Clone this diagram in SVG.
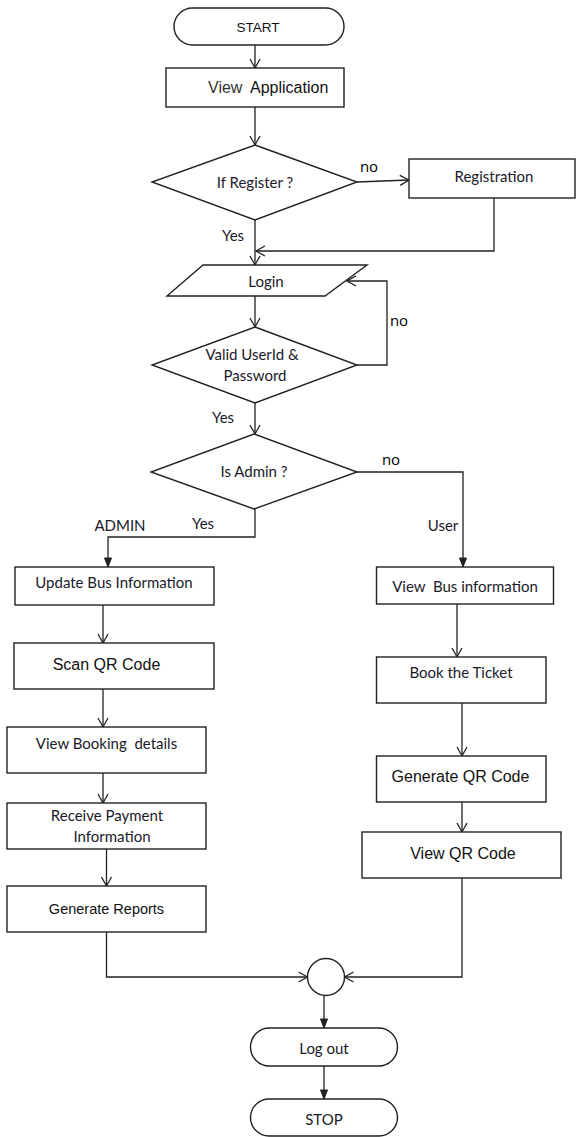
<svg xmlns="http://www.w3.org/2000/svg" width="576" height="1137" viewBox="0 0 576 1137">
<defs>
<style>
.shape{fill:#fff;stroke:#222;stroke-width:1.4}
.conn{fill:none;stroke:#222;stroke-width:1.3}
.c{font-family:Lato,"Open Sans","Liberation Sans",sans-serif;font-size:15px;fill:#1a1a2a;text-anchor:middle}
.a{font-family:"Liberation Sans",Arial,sans-serif;font-size:16px;fill:#111;text-anchor:middle}
.lbl{font-family:Lato,"Open Sans","Liberation Sans",sans-serif;font-size:15px;fill:#1a1a2a;text-anchor:middle}
.no{font-family:"Open Sans","Liberation Sans",sans-serif;font-size:15px;fill:#000;text-anchor:middle}
</style>
<marker id="open" markerUnits="userSpaceOnUse" markerWidth="12" markerHeight="12" refX="10" refY="6" orient="auto">
<path d="M1,1 L10,6 L1,11" fill="none" stroke="#222" stroke-width="1.3"/>
</marker>
<marker id="fill" markerUnits="userSpaceOnUse" markerWidth="12" markerHeight="12" refX="10" refY="6" orient="auto">
<path d="M1,2.5 L10,6 L1,9.5 Z" fill="#222" stroke="#222" stroke-width="1"/>
</marker>
</defs>
<rect width="576" height="1137" fill="#fff"/>

<g id="connectors">
<line class="conn" x1="255" y1="45" x2="255" y2="68" marker-end="url(#open)"/>
<line class="conn" x1="255" y1="107" x2="255" y2="145" marker-end="url(#open)"/>
<line class="conn" x1="357" y1="182" x2="409" y2="180" marker-end="url(#open)"/>
<polyline class="conn" points="494,198 494,251 256,251" marker-end="url(#open)"/>
<line class="conn" x1="255" y1="220" x2="255" y2="265" marker-end="url(#open)"/>
<line class="conn" x1="255" y1="296" x2="255" y2="327" marker-end="url(#open)"/>
<polyline class="conn" points="357,365 387,365 387,281 347,281" marker-end="url(#open)"/>
<line class="conn" x1="255" y1="403" x2="255" y2="434" marker-end="url(#open)"/>
<polyline class="conn" points="255,509 255,537 108,537 108,567" marker-end="url(#fill)"/>
<polyline class="conn" points="357,472 463,472 463,567" marker-end="url(#fill)"/>
<line class="conn" x1="103" y1="605" x2="103" y2="643" marker-end="url(#open)"/>
<line class="conn" x1="103" y1="689" x2="103" y2="727" marker-end="url(#open)"/>
<line class="conn" x1="103" y1="773" x2="103" y2="803" marker-end="url(#open)"/>
<line class="conn" x1="106.5" y1="849" x2="106.5" y2="886" marker-end="url(#open)"/>
<line class="conn" x1="457" y1="604" x2="457" y2="657" marker-end="url(#open)"/>
<line class="conn" x1="462" y1="703" x2="462" y2="756" marker-end="url(#open)"/>
<line class="conn" x1="462" y1="802" x2="462" y2="832" marker-end="url(#open)"/>
<polyline class="conn" points="106.5,932 106.5,977 307.5,977" marker-end="url(#open)"/>
<polyline class="conn" points="462,878 462,977 344.5,977" marker-end="url(#open)"/>
<line class="conn" x1="324" y1="996" x2="324" y2="1028" marker-end="url(#fill)"/>
<line class="conn" x1="324" y1="1066" x2="324" y2="1099" marker-end="url(#fill)"/>
</g>

<g id="labels">
<text class="no" x="369" y="172">no</text>
<text class="lbl" x="233" y="241">Yes</text>
<text class="no" x="399" y="326">no</text>
<text class="lbl" x="223" y="423">Yes</text>
<text class="no" x="391" y="465">no</text>
<text class="lbl" x="120" y="531">ADMIN</text>
<text class="lbl" x="203" y="529">Yes</text>
<text class="lbl" x="443" y="531">User</text>
</g>

<g id="start">
<rect class="shape" x="174" y="8" width="170" height="37" rx="18.5"/>
<text class="a" x="258" y="32" style="font-size:13.5px">START</text>
</g>
<g id="view-application">
<rect class="shape" x="166" y="68" width="178" height="39"/>
<text class="a" x="208" y="93" style="text-anchor:start"><tspan fill="#333">View</tspan><tspan x="250">Application</tspan></text>
</g>
<g id="if-register">
<polygon class="shape" points="255,145 357,182 255,220 152,182"/>
<text class="c" x="255" y="188">If Register ?</text>
</g>
<g id="registration">
<rect class="shape" x="409" y="159" width="166" height="39"/>
<text class="c" x="494" y="182">Registration</text>
</g>
<g id="login">
<polygon class="shape" points="203,265 367,265 325,296 167,296"/>
<text class="c" x="266" y="287">Login</text>
</g>
<g id="valid-userid">
<polygon class="shape" points="255,327 357,365 255,403 152,365"/>
<text class="c" x="252" y="360">Valid UserId &amp;</text>
<text class="c" x="255" y="381">Password</text>
</g>
<g id="is-admin">
<polygon class="shape" points="254,434 357,472 254,509 151,472"/>
<text class="c" x="254" y="477">Is Admin ?</text>
</g>
<g id="update-bus">
<rect class="shape" x="15" y="567" width="199" height="38"/>
<text class="c" x="114" y="588">Update Bus Information</text>
</g>
<g id="scan-qr">
<rect class="shape" x="14" y="643" width="200" height="46"/>
<text class="a" x="106.5" y="670">Scan QR Code</text>
</g>
<g id="view-booking">
<rect class="shape" x="7" y="727" width="199" height="46"/>
<text class="c" x="106.5" y="749" xml:space="preserve">View Booking  details</text>
</g>
<g id="receive-payment">
<rect class="shape" x="7" y="803" width="199" height="46"/>
<text class="c" x="107" y="821">Receive Payment</text>
<text class="c" x="112" y="842">Information</text>
</g>
<g id="generate-reports">
<rect class="shape" x="7" y="886" width="199" height="46"/>
<text class="a" x="106.5" y="914" style="font-size:14.5px">Generate Reports</text>
</g>
<g id="view-bus">
<rect class="shape" x="376.5" y="567" width="177" height="37"/>
<text class="c" x="465" y="592" xml:space="preserve">View  Bus information</text>
</g>
<g id="book-ticket">
<rect class="shape" x="376.5" y="657" width="169.5" height="46"/>
<text class="c" x="461" y="678">Book the Ticket</text>
</g>
<g id="generate-qr">
<rect class="shape" x="376.5" y="756" width="169.5" height="46"/>
<text class="a" x="460.5" y="782">Generate QR Code</text>
</g>
<g id="view-qr">
<rect class="shape" x="362" y="832" width="199" height="46"/>
<text class="a" x="463" y="859">View QR Code</text>
</g>
<g id="merge">
<circle class="shape" cx="326" cy="977" r="18.5"/>
</g>
<g id="logout">
<rect class="shape" x="250.5" y="1028" width="147" height="38" rx="19"/>
<text class="c" x="324" y="1054">Log out</text>
</g>
<g id="stop">
<rect class="shape" x="250.5" y="1099" width="147" height="37" rx="18.5"/>
<text class="c" x="324" y="1125">STOP</text>
</g>
</svg>
